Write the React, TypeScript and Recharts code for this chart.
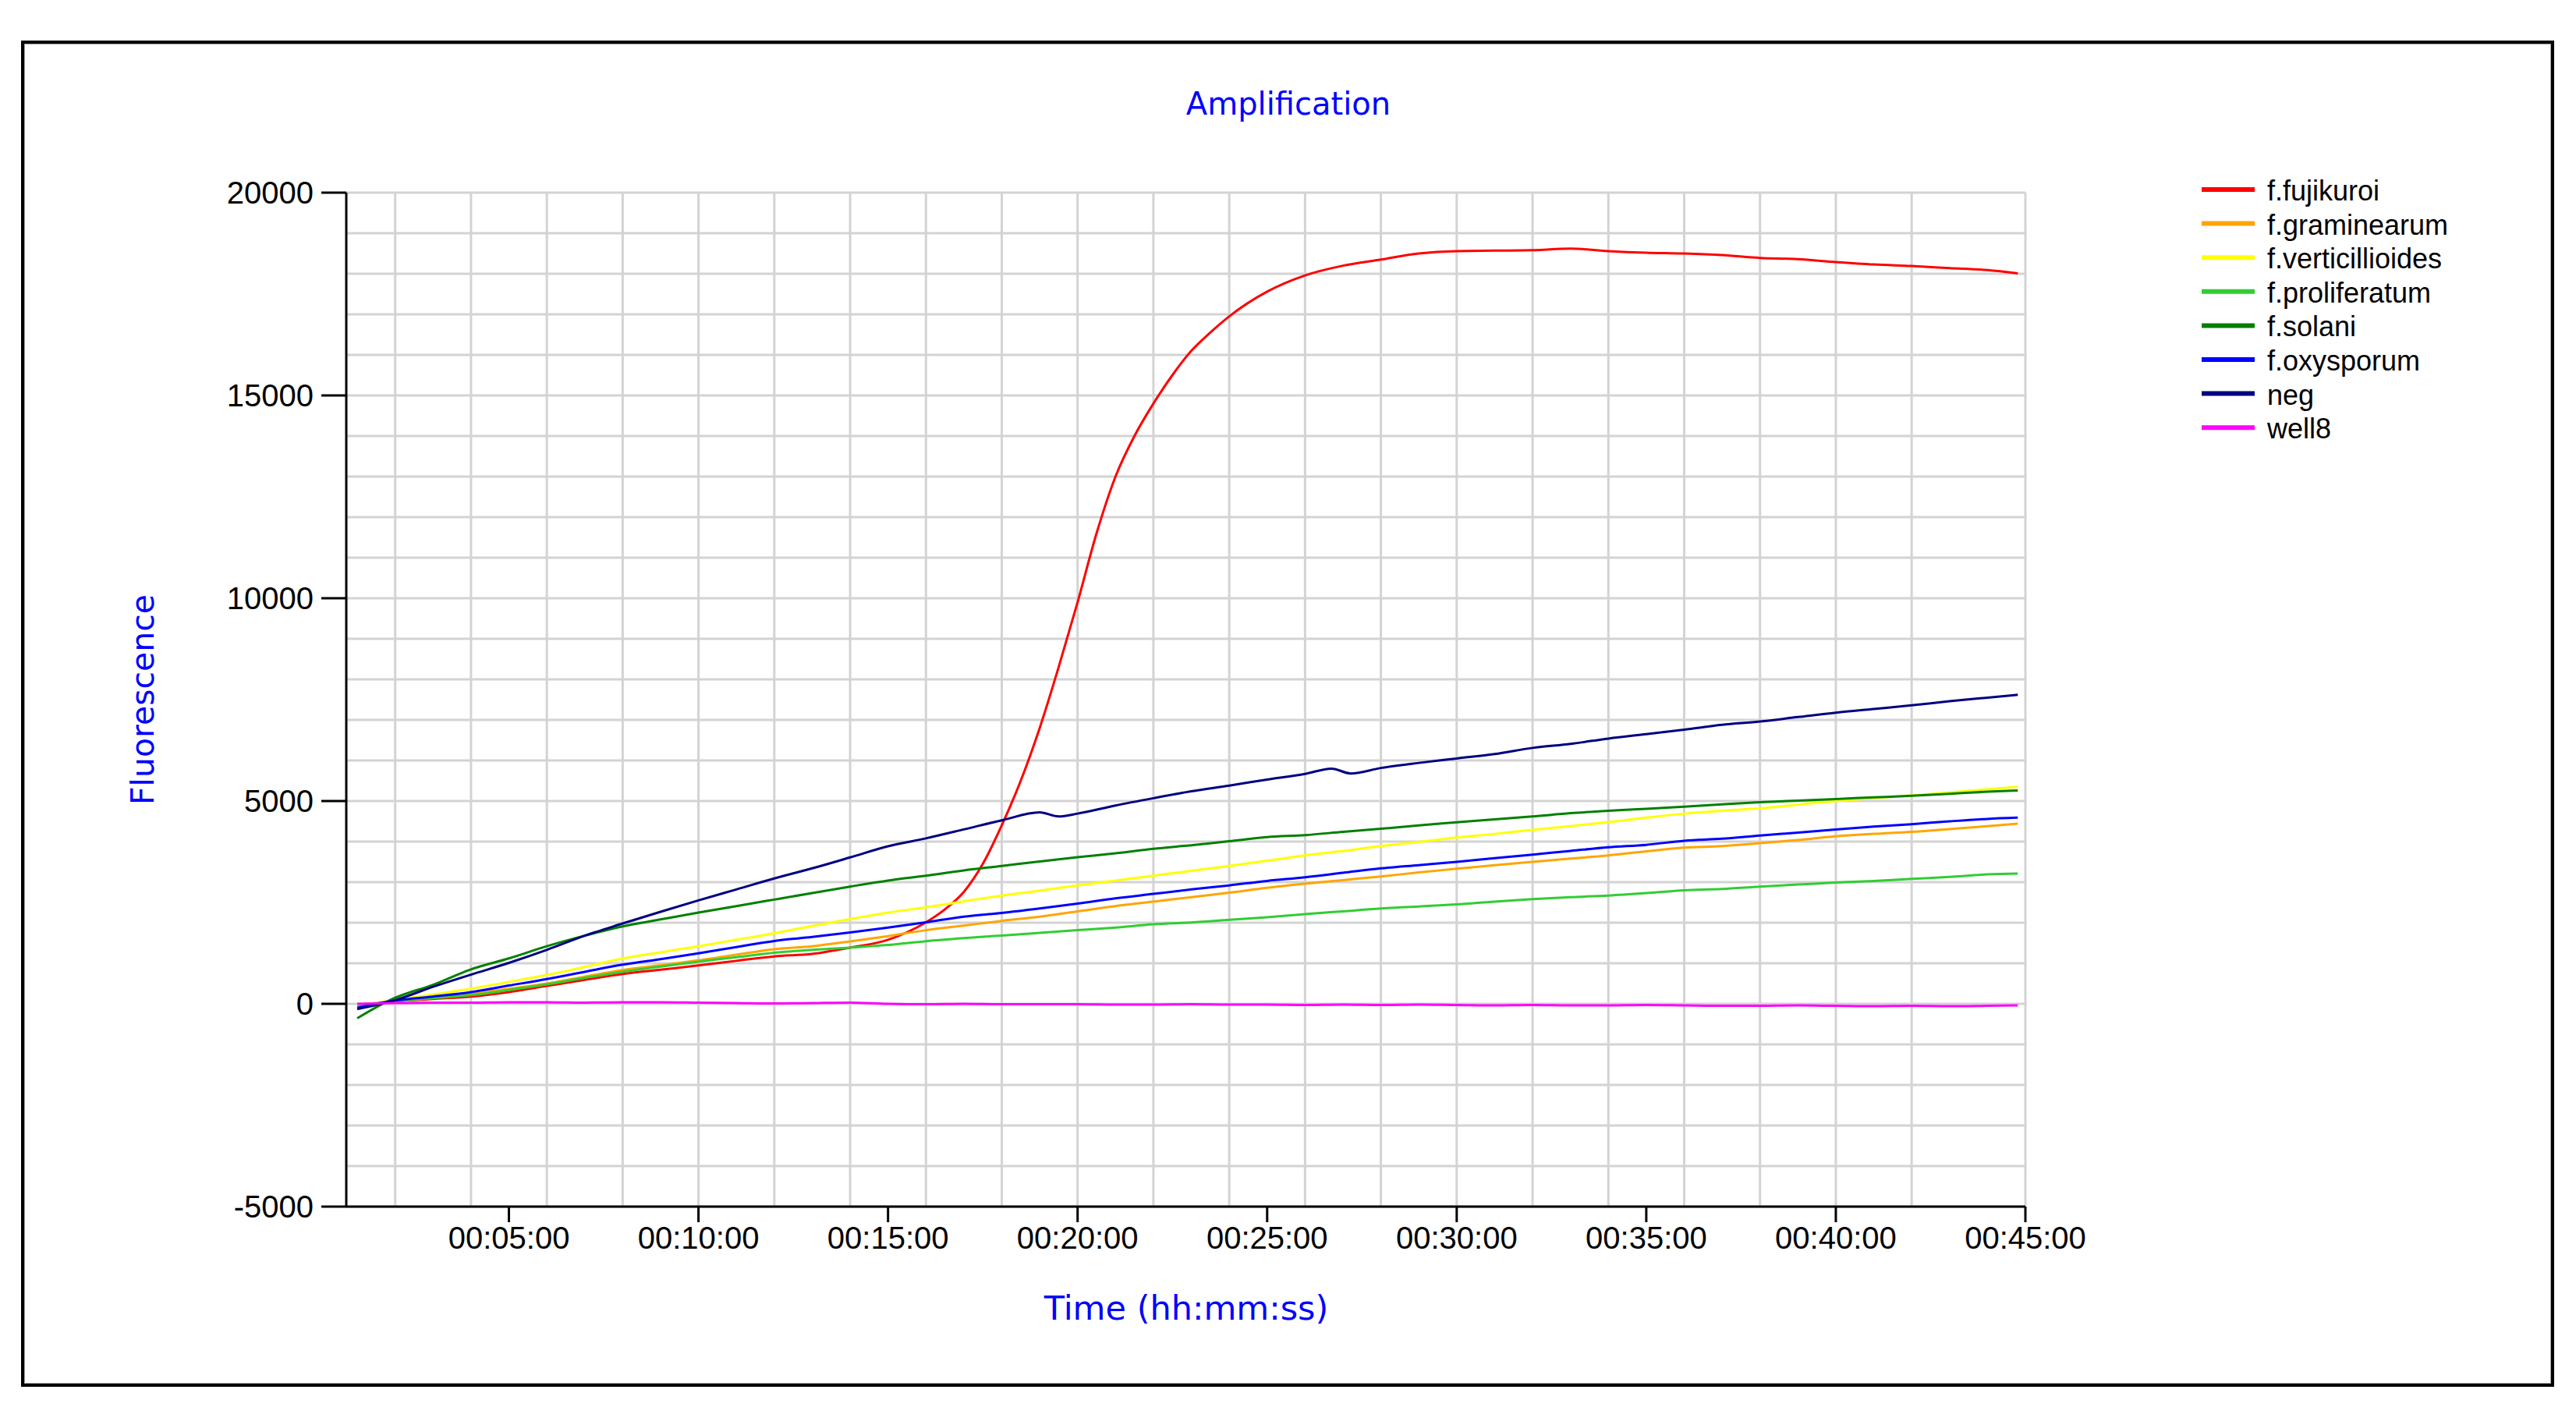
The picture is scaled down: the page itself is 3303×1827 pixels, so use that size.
import React from 'react'
import { LineChart, Line, XAxis, YAxis, CartesianGrid } from 'recharts'

const WIDTH = 3303
const HEIGHT = 1827

// sample times in minutes (the run ends a little before 45 min)
const minutes = [
  1, 2, 3, 4, 5, 6, 7, 8, 9, 10, 11, 12, 13, 14, 15, 16, 17, 18, 19, 20, 21, 22,
  23, 24, 25, 26, 27, 28, 29, 30, 31, 32, 33, 34, 35, 36, 37, 38, 39, 40, 41, 42,
  43, 44, 44.8
]
const redMinutes = [
  1, 2, 3, 4, 5, 6, 7, 8, 9, 10, 11, 12, 13, 14, 15, 16, 16.5, 17, 17.5, 18,
  18.5, 19, 19.5, 20, 20.5, 21, 21.5, 22, 22.5, 23, 23.5, 24, 25, 26, 27, 28, 29,
  30, 31, 32, 33, 34, 35, 36, 37, 38, 39, 40, 41, 42, 43, 44, 44.8
]
const negMinutes = [
  1, 2, 3, 4, 5, 6, 7, 8, 9, 10, 11, 12, 13, 14, 15, 16, 17, 18, 19, 19.5, 20, 21,
  22, 23, 24, 25, 26, 26.7, 27.2, 28, 29, 30, 31, 32, 33, 34, 35, 36, 37, 38, 39,
  40, 41, 42, 43, 44, 44.8
]

const fujikuroi = [
  -40, 60, 120, 180, 290, 440, 590, 735, 840, 945, 1060, 1170, 1230, 1385, 1580,
  2010, 2330, 2760, 3450, 4400, 5500, 6800, 8300, 9900, 11600, 13000, 14000,
  14800, 15500, 16100, 16550, 16950, 17560, 17960, 18200, 18350, 18500, 18560,
  18570, 18580, 18620, 18560, 18520, 18500, 18460, 18390, 18360, 18290, 18230,
  18190, 18140, 18090, 18010
]
const graminearum = [
  -60, 60, 150, 250, 370, 500, 670, 830, 950, 1070, 1210, 1345, 1420, 1540, 1670,
  1815, 1930, 2045, 2150, 2280, 2410, 2520, 2630, 2740, 2860, 2960, 3050, 3140,
  3240, 3330, 3420, 3500, 3580, 3660, 3760, 3850, 3890, 3960, 4040, 4130, 4190,
  4240, 4310, 4380, 4440
]
const verticillioides = [
  -40, 90, 230, 375, 540, 710, 910, 1120, 1270, 1420, 1580, 1740, 1920, 2090,
  2250, 2380, 2530, 2670, 2790, 2920, 3040, 3160, 3280, 3400, 3530, 3660, 3770,
  3890, 3990, 4100, 4190, 4290, 4380, 4480, 4590, 4690, 4760, 4820, 4910, 5000,
  5070, 5140, 5210, 5290, 5350
]
const proliferatum = [
  -60, 70, 140, 215, 340, 480, 640, 790, 920, 1040, 1150, 1260, 1330, 1385, 1450,
  1545, 1620, 1685, 1750, 1815, 1880, 1960, 2005, 2070, 2135, 2210, 2280, 2350,
  2400, 2450, 2520, 2580, 2630, 2670, 2730, 2800, 2830, 2890, 2940, 2990, 3030,
  3080, 3130, 3190, 3210
]
const solani = [
  -355, 150, 470, 850, 1120, 1420, 1680, 1910, 2080, 2250, 2410, 2570, 2730, 2890,
  3040, 3160, 3290, 3400, 3510, 3615, 3710, 3820, 3910, 4010, 4110, 4160, 4240,
  4316, 4400, 4475, 4550, 4620, 4700, 4760, 4810, 4860, 4920, 4970, 5010, 5050,
  5090, 5130, 5180, 5230, 5260
]
const oxysporum = [
  -100, 80, 180, 290, 450, 610, 790, 965, 1100, 1245, 1400, 1550, 1650, 1760,
  1880, 2010, 2150, 2240, 2350, 2470, 2600, 2710, 2820, 2920, 3030, 3120, 3230,
  3340, 3420, 3500, 3590, 3680, 3770, 3860, 3920, 4020, 4070, 4150, 4220, 4300,
  4370, 4430, 4500, 4560, 4590
]
const neg = [
  -130, 90, 420, 720, 1010, 1330, 1680, 1980, 2270, 2550, 2820, 3090, 3340, 3610,
  3885, 4080, 4300, 4525, 4720, 4620, 4690, 4890, 5070, 5240, 5380, 5530, 5670,
  5800, 5680, 5815, 5940, 6050, 6160, 6310, 6410, 6540, 6650, 6760, 6880, 6960,
  7070, 7180, 7270, 7360, 7460, 7550, 7620
]
const well8 = [
  0, 20, 30, 30, 40, 40, 30, 40, 40, 30, 20, 10, 20, 30, 0, -10, 0, -10, -10, -10,
  -20, -20, -10, -20, -20, -30, -20, -30, -20, -30, -40, -30, -40, -40, -30, -40,
  -50, -50, -40, -50, -60, -50, -60, -50, -40
]

// axis ticks / grid (seconds for x)
const xTicks = [300, 600, 900, 1200, 1500, 1800, 2100, 2400, 2700]
const yTicks = [-5000, 0, 5000, 10000, 15000, 20000]
const xGrid = [
  120, 240, 300, 360, 480, 600, 720, 840, 900, 960, 1080, 1200, 1320, 1440, 1500,
  1560, 1680, 1800, 1920, 2040, 2100, 2160, 2280, 2400, 2520, 2640, 2700
]
const yGrid = [
  -5000, -4000, -3000, -2000, -1000, 0, 1000, 2000, 3000, 4000, 5000, 6000, 7000,
  8000, 9000, 10000, 11000, 12000, 13000, 14000, 15000, 16000, 17000, 18000,
  19000, 20000
]

const toPoints = (mins: number[], vals: number[]) =>
  mins.map((m, i) => ({ t: m * 60, v: vals[i] }))

const series = [
  { name: 'f.fujikuroi', color: '#FF0000', data: toPoints(redMinutes, fujikuroi) },
  { name: 'f.graminearum', color: '#FFA500', data: toPoints(minutes, graminearum) },
  { name: 'f.verticillioides', color: '#FFFF00', data: toPoints(minutes, verticillioides) },
  { name: 'f.proliferatum', color: '#32CD32', data: toPoints(minutes, proliferatum) },
  { name: 'f.solani', color: '#008000', data: toPoints(minutes, solani) },
  { name: 'f.oxysporum', color: '#0000FF', data: toPoints(minutes, oxysporum) },
  { name: 'neg', color: '#000080', data: toPoints(negMinutes, neg) },
  { name: 'well8', color: '#FF00FF', data: toPoints(minutes, well8) }
]

const pad = (n: number) => String(n).padStart(2, '0')
const formatTime = (s: number) => {
  const h = Math.floor(s / 3600)
  const m = Math.floor((s % 3600) / 60)
  const sec = Math.round(s % 60)
  return `${pad(h)}:${pad(m)}:${pad(sec)}`
}

const TICK_FONT = '"Liberation Sans", Arial, sans-serif'
const TITLE_FONT = '"DejaVu Sans", "Liberation Sans", sans-serif'

export default function App() {
  return (
    <div
      style={{
        position: 'absolute',
        left: 0,
        top: 0,
        width: WIDTH,
        height: HEIGHT,
        background: '#FFFFFF',
        overflow: 'hidden'
      }}
    >
      {/* outer frame */}
      <div
        style={{
          position: 'absolute',
          left: 27,
          top: 52,
          width: 3248,
          height: 1726,
          boxSizing: 'border-box',
          border: '4px solid #000000',
          boxShadow: 'inset 0 0 0 1px #A0A0A0'
        }}
      />
      <div style={{ position: 'absolute', left: 0, top: 0 }}>
        <LineChart
          width={WIDTH}
          height={HEIGHT}
          margin={{ top: 247, right: 706, bottom: 200, left: 0 }}
        >
          <CartesianGrid
            stroke="#D3D3D3"
            strokeWidth={3}
            horizontalValues={yGrid}
            verticalValues={xGrid}
          />
          <XAxis
            type="number"
            dataKey="t"
            domain={[42.6, 2700]}
            allowDataOverflow
            ticks={xTicks}
            tickFormatter={formatTime}
            height={80}
            tickSize={20}
            tickMargin={6}
            axisLine={{ stroke: '#000000', strokeWidth: 3 }}
            tickLine={{ stroke: '#000000', strokeWidth: 3 }}
            tick={{ fill: '#000000', fontSize: 40, fontFamily: TICK_FONT }}
          />
          <YAxis
            type="number"
            domain={[-5000, 20000]}
            allowDataOverflow
            ticks={yTicks}
            width={444}
            tickSize={32}
            tickMargin={10}
            axisLine={{ stroke: '#000000', strokeWidth: 3 }}
            tickLine={{ stroke: '#000000', strokeWidth: 3 }}
            tick={{ fill: '#000000', fontSize: 40, fontFamily: TICK_FONT }}
          />
          {series.map((s) => (
            <Line
              key={s.name}
              data={s.data}
              dataKey="v"
              name={s.name}
              type="monotone"
              stroke={s.color}
              strokeWidth={3}
              dot={false}
              activeDot={false}
              isAnimationActive={false}
            />
          ))}
        </LineChart>
      </div>
      {/* titles and legend */}
      <svg
        width={WIDTH}
        height={HEIGHT}
        style={{ position: 'absolute', left: 0, top: 0, pointerEvents: 'none' }}
      >
        <text
          x={1652}
          y={147}
          textAnchor="middle"
          fill="#0000FF"
          fontSize={40}
          fontFamily={TITLE_FONT}
        >
          Amplification
        </text>
        <text
          x={1521}
          y={1692}
          textAnchor="middle"
          fill="#0000FF"
          fontSize={43}
          fontFamily={TITLE_FONT}
        >
          Time (hh:mm:ss)
        </text>
        <text
          x={0}
          y={0}
          transform="translate(197 897) rotate(-90)"
          textAnchor="middle"
          fill="#0000FF"
          fontSize={41}
          fontFamily={TITLE_FONT}
        >
          Fluorescence
        </text>
        {series.map((s, i) => {
          const cy = 243 + i * 43.6
          return (
            <g key={s.name}>
              <line x1={2823} x2={2891} y1={cy} y2={cy} stroke={s.color} strokeWidth={6} />
              <text x={2907} y={cy + 14} fill="#000000" fontSize={36} fontFamily={TICK_FONT}>
                {s.name}
              </text>
            </g>
          )
        })}
      </svg>
    </div>
  )
}
